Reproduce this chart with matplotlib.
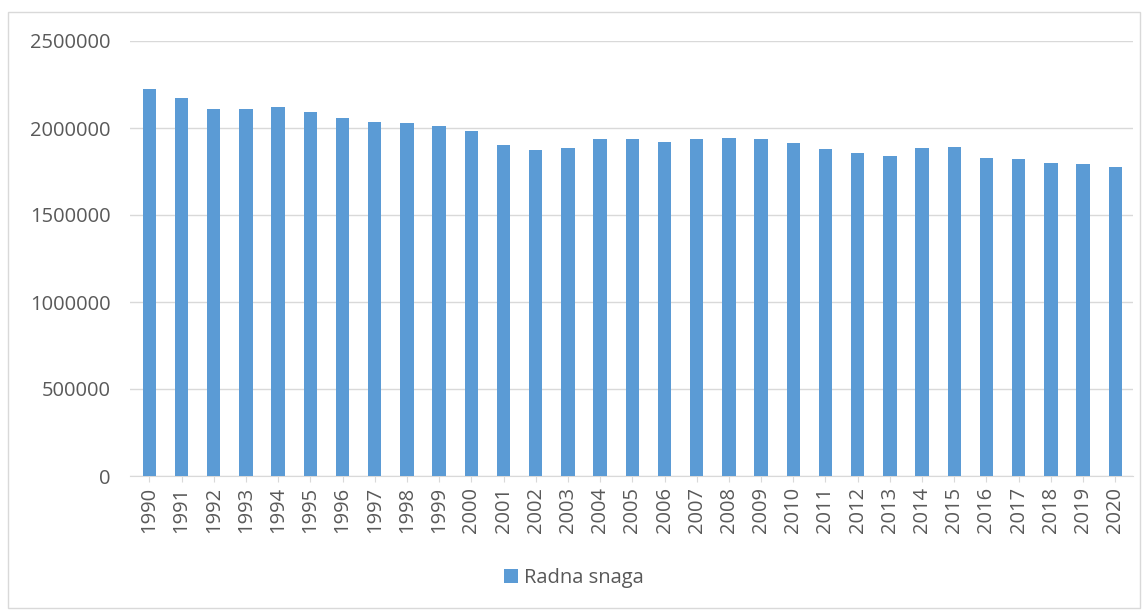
import numpy as np
import matplotlib.pyplot as plt
from matplotlib.patches import Rectangle

years = [str(y) for y in range(1990, 2021)]
radna_snaga = [2222000, 2174000, 2109000, 2109000, 2120000, 2092000, 2056000,
               2036000, 2027000, 2010000, 1983000, 1900000, 1873000, 1885000,
               1937000, 1937000, 1921000, 1937000, 1942000, 1938000, 1914000,
               1877000, 1856000, 1837000, 1885000, 1889000, 1829000, 1822000,
               1797000, 1791000, 1776000]
yticks = [0, 500000, 1000000, 1500000, 2000000, 2500000]

plt.rcParams['font.family'] = ['Open Sans', 'DejaVu Sans']
txt = '#595959'
fs = 14.5

fig = plt.figure(figsize=(11.48, 6.10), dpi=100)
fig.patches.append(Rectangle((8/1148, 2/610), 1132/1148, 596/610, transform=fig.transFigure,
                             fill=False, edgecolor='#D9D9D9', linewidth=1))
ax = fig.add_axes([130/1148, 1 - 476/610, 1003/1148, 435/610])

x = np.arange(len(years))
ax.bar(x, radna_snaga, width=0.42, color='#5B9BD5', label='Radna snaga', zorder=3)
ax.set_xlim(-0.6, len(years) - 0.45)
ax.set_ylim(0, 2500000)
ax.set_yticks(yticks)
ax.set_yticklabels([str(v) for v in yticks], fontsize=fs, color=txt)
ax.set_xticks(x)
ax.set_xticklabels(years, rotation=90, fontsize=fs, color=txt)
ax.grid(axis='y', color='#D9D9D9', linewidth=1, zorder=0)
for s in ['top', 'right', 'left']:
    ax.spines[s].set_visible(False)
ax.spines['bottom'].set_color('#D9D9D9')
ax.tick_params(axis='y', length=0, pad=14)
ax.tick_params(axis='x', length=4, color='#D9D9D9', pad=4)

fig.legend(loc='center', bbox_to_anchor=(0.5, 1 - 578/610), frameon=False,
           fontsize=fs, labelcolor=txt, handlelength=0.7, handleheight=0.7,
           handletextpad=0.3)
fig.savefig('out.png', dpi=100)
